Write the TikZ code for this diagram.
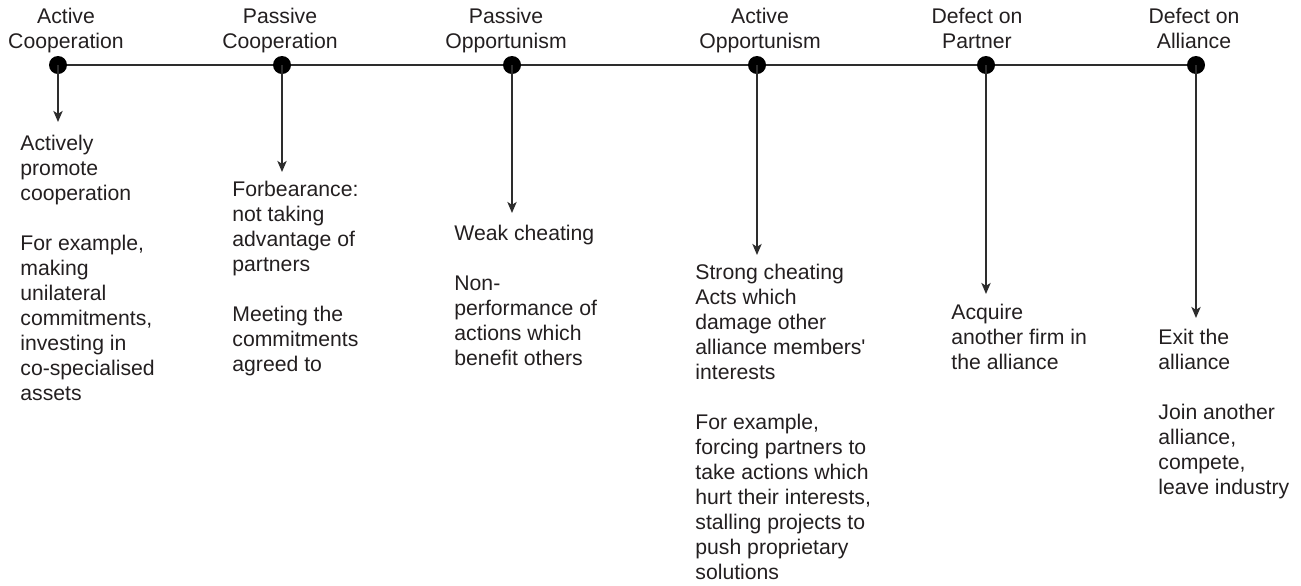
\documentclass[tikz,border=0pt]{standalone}
\usepackage{fontspec}
\setmainfont{Liberation Sans}
\usetikzlibrary{arrows.meta}
\definecolor{ink}{RGB}{35,31,32}
\definecolor{rule}{RGB}{45,45,45}
\begin{document}
\begin{tikzpicture}[x=0.5pt,y=-0.5pt,
  every node/.style={text=ink,font=\fontsize{10.6pt}{12.5pt}\selectfont,inner sep=0pt},
  stage/.style={align=center,anchor=north},
  detail/.style={align=left,anchor=north west},
  dot/.style={circle,fill=black,minimum size=9pt,inner sep=0pt},
  link/.style={draw=rule,line width=1pt,
    -{Stealth[length=5.5pt,width=4.6pt,inset=1.4pt]}}]
\useasboundingbox (0,0) rectangle (1301,585);

% stages along the scale
\node[dot] (d1) at (58,65) {};
\node[dot] (d2) at (282,65) {};
\node[dot] (d3) at (512,65) {};
\node[dot] (d4) at (757,65) {};
\node[dot] (d5) at (986,65) {};
\node[dot] (d6) at (1196,65) {};
\draw[draw=rule,line width=1pt] (d1) -- (d2) -- (d3) -- (d4) -- (d5) -- (d6);

% stage names (node tops sit one strut height above the first baseline)
\node[stage] (s1) at (66,5.5) {\strut Active\\Cooperation};
\node[stage] (s2) at (280,5.5) {\strut Passive\\Cooperation};
\node[stage] (s3) at (506,5.5) {\strut Passive\\Opportunism};
\node[stage] (s4) at (760,5.5) {\strut Active\\Opportunism};
\node[stage] (s5) at (977,5.5) {\strut Defect on\\Partner};
\node[stage] (s6) at (1194,5.5) {\strut Defect on\\Alliance};

% arrow ends
\coordinate (e1) at (58,122);
\coordinate (e2) at (282,172);
\coordinate (e3) at (512,213);
\coordinate (e4) at (757,255);
\coordinate (e5) at (986,294);
\coordinate (e6) at (1196,318);
\foreach \i in {1,...,6} \draw[link] (d\i.center) -- (e\i);

% descriptions
\node[detail] (t1) at (20,132.5) {\strut Actively\\promote\\cooperation\\[12.5pt]For example,\\making\\unilateral\\commitments,\\investing in\\co-specialised\\assets};
\node[detail] (t2) at (232,178.5) {\strut Forbearance:\\not taking\\advantage of\\partners\\[12.5pt]Meeting the\\commitments\\agreed to};
\node[detail] (t3) at (454,222.5) {\strut Weak cheating\\[12.5pt]Non-\\performance of\\actions which\\benefit others};
\node[detail] (t4) at (695,261.5) {\strut Strong cheating\\Acts which\\damage other\\alliance members\textquotesingle\\interests\\[12.5pt]For example,\\forcing partners to\\take actions which\\hurt their interests,\\stalling projects to\\push proprietary\\solutions};
\node[detail] (t5) at (951,301.5) {\strut Acquire\\another firm in\\the alliance};
\node[detail] (t6) at (1158,326.5) {\strut Exit the\\alliance\\[12.5pt]Join another\\alliance,\\compete,\\leave industry};
\end{tikzpicture}
\end{document}
